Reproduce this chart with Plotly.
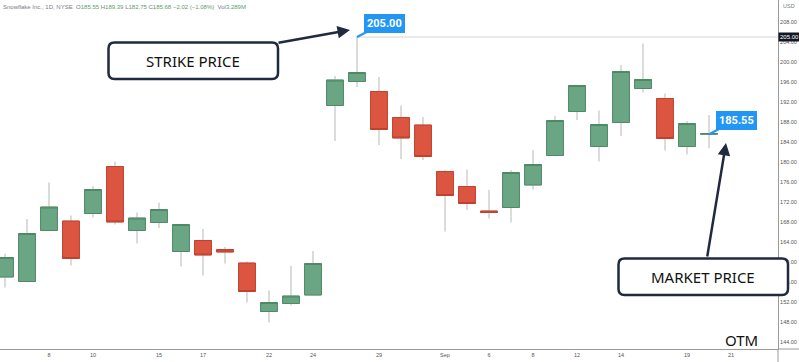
import plotly.graph_objects as go

dates = ["2022-08-04", "2022-08-05", "2022-08-08", "2022-08-09", "2022-08-10", "2022-08-11",
         "2022-08-12", "2022-08-15", "2022-08-16", "2022-08-17", "2022-08-18", "2022-08-19",
         "2022-08-22", "2022-08-23", "2022-08-24", "2022-08-25", "2022-08-26", "2022-08-29",
         "2022-08-30", "2022-08-31", "2022-09-01", "2022-09-02", "2022-09-06", "2022-09-07",
         "2022-09-08", "2022-09-09", "2022-09-12", "2022-09-13", "2022-09-14", "2022-09-15",
         "2022-09-16", "2022-09-19", "2022-09-20"]
opens = [157.0, 156.1, 166.3, 168.2, 169.7, 179.1, 166.3, 167.9, 162.1, 164.3, 162.5, 159.8,
         150.1, 151.7, 153.4, 191.3, 196.1, 194.1, 188.9, 187.4, 178.1, 175.1, 170.2, 170.9,
         175.4, 181.3, 190.1, 183.1, 187.9, 194.7, 192.7, 183.1, 185.55]
highs = [161.7, 168.6, 175.9, 169.3, 175.2, 180.1, 169.9, 171.9, 167.6, 166.6, 163.0, 160.1,
         154.3, 159.2, 162.2, 197.2, 205.0, 197.0, 191.3, 189.0, 178.4, 178.5, 174.4, 178.4,
         182.4, 189.2, 195.3, 190.3, 199.4, 203.7, 193.7, 188.2, 189.39]
lows = [154.9, 156.0, 166.2, 159.3, 168.9, 167.5, 163.7, 166.8, 159.1, 157.3, 159.7, 151.9,
        147.9, 151.3, 153.3, 184.2, 195.0, 183.4, 180.6, 180.4, 166.1, 170.4, 168.7, 167.9,
        174.5, 181.2, 188.4, 180.1, 185.2, 193.9, 182.3, 181.5, 182.75]
closes = [160.9, 165.7, 171.0, 160.7, 174.5, 168.0, 168.8, 170.5, 167.5, 161.4, 162.0, 154.1,
          151.9, 153.2, 159.7, 196.4, 197.9, 186.5, 184.8, 181.1, 173.3, 171.7, 169.9, 177.9,
          179.5, 188.3, 195.3, 187.5, 198.1, 196.5, 184.7, 187.7, 185.68]

x_tick_dates = ["2022-08-08", "2022-08-10", "2022-08-15", "2022-08-17", "2022-08-22", "2022-08-24",
                "2022-08-29", "2022-09-01", "2022-09-06", "2022-09-08", "2022-09-12", "2022-09-14",
                "2022-09-19", "2022-09-21"]
x_tick_text = ["8", "10", "15", "17", "22", "24", "29", "Sep", "6", "8", "12", "14", "19", "21"]
y_ticks = [144, 148, 152, 156, 160, 164, 168, 172, 176, 180, 184, 188, 192, 196, 200, 204, 208]

strike_price = 205.00
market_price = 185.55
header_name = "Snowflake Inc., 1D, NYSE"
change_text = "\u22122.02 (\u22121.08%)"
volume_text = "3.289M"

GREEN_FILL = "#6aa584"
GREEN_LINE = "#4f8a67"
RED_FILL = "#dc5540"
RED_LINE = "#c2412d"
WICK = "#b8b8b8"
NAVY = "#1f2940"
BLUE = "#2196f3"

W, H = 799, 362
ML, MR, MT, MB = 0, 21, 0, 13
PW, PH = W - ML - MR, H - MT - MB

fig = go.Figure()
# wicks
fig.add_trace(go.Candlestick(
    x=dates, open=opens, high=highs, low=lows, close=closes,
    increasing=dict(line=dict(color=WICK, width=1), fillcolor="rgba(0,0,0,0)"),
    decreasing=dict(line=dict(color=WICK, width=1), fillcolor="rgba(0,0,0,0)"),
    whiskerwidth=0, hoverinfo="skip", showlegend=False))
# bodies
body_hi = [max(o, c) for o, c in zip(opens, closes)]
body_lo = [min(o, c) for o, c in zip(opens, closes)]
fig.add_trace(go.Candlestick(
    x=dates, open=opens, high=body_hi, low=body_lo, close=closes,
    increasing=dict(line=dict(color=GREEN_LINE, width=1), fillcolor=GREEN_FILL),
    decreasing=dict(line=dict(color=RED_LINE, width=1), fillcolor=RED_FILL),
    whiskerwidth=0, hoverinfo="skip", showlegend=False))

strike_date = dates[highs.index(max(highs))]
x_range = ["2022-08-03 18:33", "2022-09-23 03:16"]

shapes = []
shapes.append(dict(type="line", xref="x", yref="y", x0=strike_date, x1=x_range[1],
                   y0=strike_price, y1=strike_price, line=dict(color="#d4d4d4", width=1), layer="below"))
# axis extension lines
shapes.append(dict(type="line", xref="paper", yref="paper", x0=1, x1=W / PW, y0=0, y1=0,
                   line=dict(color="#9a9a9a", width=1)))
shapes.append(dict(type="line", xref="paper", yref="paper", x0=1, x1=1, y0=0, y1=-MB / PH,
                   line=dict(color="#9a9a9a", width=1)))


def px2paper(px, py):
    return (px - ML) / PW, 1 - (py - MT) / PH


def rounded_rect(x0, y0, x1, y1, r):
    pts = []
    a = px2paper(x0 + r, y0)
    pts.append(f"M {a[0]} {a[1]}")
    def L(px, py):
        p = px2paper(px, py)
        return f"L {p[0]} {p[1]}"
    def Q(cx, cy, px, py):
        c = px2paper(cx, cy)
        p = px2paper(px, py)
        return f"Q {c[0]} {c[1]} {p[0]} {p[1]}"
    pts.append(L(x1 - r, y0))
    pts.append(Q(x1, y0, x1, y0 + r))
    pts.append(L(x1, y1 - r))
    pts.append(Q(x1, y1, x1 - r, y1))
    pts.append(L(x0 + r, y1))
    pts.append(Q(x0, y1, x0, y1 - r))
    pts.append(L(x0, y0 + r))
    pts.append(Q(x0, y0, x0 + r, y0))
    pts.append("Z")
    return " ".join(pts)


boxes = [(108.5, 42.5, 278, 79, "STRIKE PRICE"), (618.5, 258.5, 788, 295, "MARKET PRICE")]
annotations = []
for (x0, y0, x1, y1, label) in boxes:
    shapes.append(dict(type="path", xref="paper", yref="paper", path=rounded_rect(x0, y0, x1, y1, 6),
                       line=dict(color=NAVY, width=2.5), fillcolor="white", layer="above"))
    cx, cy = px2paper((x0 + x1) / 2, (y0 + y1) / 2)
    annotations.append(dict(xref="paper", yref="paper", x=cx, y=cy, text=label, showarrow=False,
                            font=dict(family="Noto Sans", size=15, color="#111111"),
                            xanchor="center", yanchor="middle"))

# big arrows
hx, hy = px2paper(350, 30)
annotations.append(dict(xref="paper", yref="paper", x=hx, y=hy, ax=-73, ay=13, text="",
                        showarrow=True, arrowhead=2, arrowsize=1, arrowwidth=2.5, arrowcolor=NAVY,
                        standoff=0))
hx, hy = px2paper(726, 143)
annotations.append(dict(xref="paper", yref="paper", x=hx, y=hy, ax=-19, ay=115, text="",
                        showarrow=True, arrowhead=2, arrowsize=1, arrowwidth=2.5, arrowcolor=NAVY,
                        standoff=0))

# blue price labels
for d, p in [(strike_date, strike_price), (dates[-1], market_price)]:
    annotations.append(dict(xref="x", yref="y", x=d, y=p, ax=27, ay=-14, text=f"<b>{p:.2f}</b>",
                            showarrow=True, arrowhead=0, arrowwidth=2, arrowcolor=BLUE,
                            bgcolor=BLUE, borderpad=2, bordercolor=BLUE, borderwidth=1,
                            font=dict(family="Roboto", size=11, color="white")))

# OTM
ox, oy = px2paper(741.5, 339.5)
annotations.append(dict(xref="paper", yref="paper", x=ox, y=oy, text="OTM", showarrow=False,
                        font=dict(family="Noto Sans", size=15, color="#111111"),
                        xanchor="center", yanchor="middle"))

# right axis highlighted label and USD
annotations.append(dict(xref="paper", yref="y", x=1, y=strike_price, text=f"{strike_price:.2f}",
                        showarrow=False, xanchor="left", yanchor="middle", bgcolor="#131722",
                        borderpad=1, font=dict(family="Liberation Sans", size=6, color="white")))
annotations.append(dict(xref="paper", yref="paper", x=1, y=1, xshift=3, yshift=-1, text="USD",
                        showarrow=False, xanchor="left", yanchor="top",
                        font=dict(family="Liberation Sans", size=5.5, color="#787b86")))

# header
g = "#5a9e6f"
gr = "#787b86"
header = (f"<span style='color:{gr}'>{header_name}</span>  "
          f"<span style='color:{gr}'>O</span><span style='color:{g}'>{opens[-1]:.2f}</span> "
          f"<span style='color:{gr}'>H</span><span style='color:{g}'>{highs[-1]:.2f}</span> "
          f"<span style='color:{gr}'>L</span><span style='color:{g}'>{lows[-1]:.2f}</span> "
          f"<span style='color:{gr}'>C</span><span style='color:{g}'>{closes[-1]:.2f}</span> "
          f"<span style='color:{g}'>{change_text}</span>  "
          f"<span style='color:{gr}'>Vol</span><span style='color:{g}'>{volume_text}</span>")
annotations.append(dict(xref="paper", yref="paper", x=0, y=1, xshift=1, yshift=-2, text=header,
                        showarrow=False, xanchor="left", yanchor="top",
                        font=dict(family="Liberation Sans", size=6, color=gr)))

fig.update_layout(
    width=W, height=H,
    margin=dict(l=ML, r=MR, t=MT, b=MB, pad=0),
    paper_bgcolor="white", plot_bgcolor="white",
    boxgap=0.1, boxgroupgap=0.15,
    showlegend=False,
    shapes=shapes, annotations=annotations,
    xaxis=dict(type="date", range=x_range, rangeslider=dict(visible=False),
               rangebreaks=[dict(bounds=["sat", "mon"]), dict(values=["2022-09-05"])],
               tickvals=x_tick_dates, ticktext=x_tick_text, showgrid=False, zeroline=False,
               showline=True, linecolor="#9a9a9a", linewidth=1, ticks="", ticklen=0,
               automargin=False,
               tickfont=dict(family="Liberation Sans", size=5.5, color="#555555")),
    yaxis=dict(range=[142.6, 212.4], side="right", tickvals=y_ticks,
               ticktext=[f"{v:.2f}" for v in y_ticks], showgrid=False, zeroline=False,
               showline=True, linecolor="#9a9a9a", linewidth=1, ticks="", automargin=False,
               tickfont=dict(family="Liberation Sans", size=5.5, color="#555555")),
)

fig.write_html("out.html", config={"displayModeBar": False},
               post_script="document.body.style.margin='0';document.body.style.padding='0';")
